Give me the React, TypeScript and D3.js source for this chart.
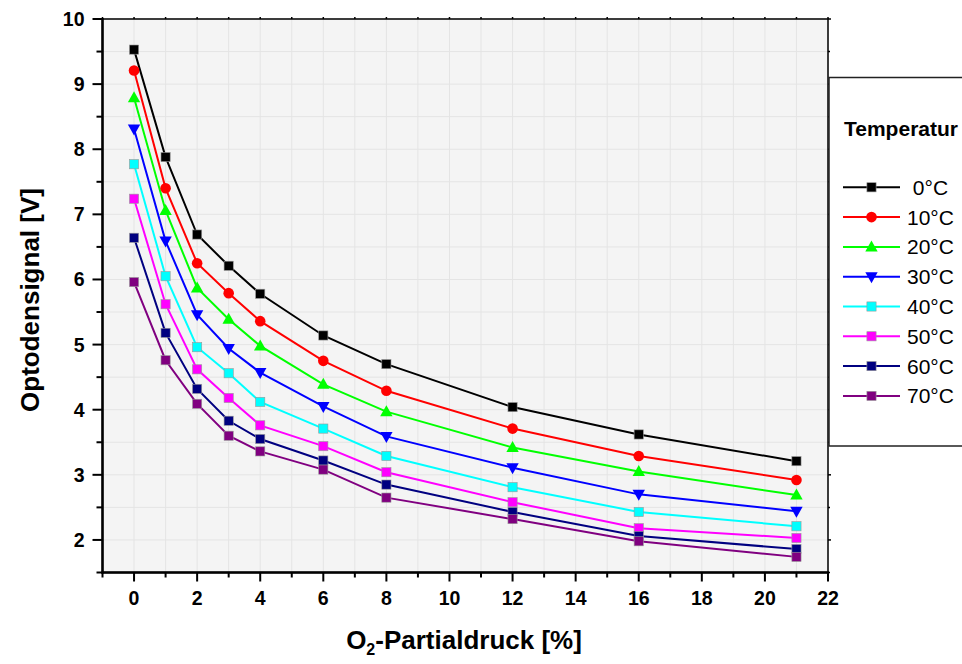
import React from "react";
import * as d3 from "d3";

const oxygen = [0, 1, 2, 3, 4, 6, 8, 12, 16, 21];
const seriesNames = ["0°C", "10°C", "20°C", "30°C", "40°C", "50°C", "60°C", "70°C"];
const t0 = [9.53, 7.88, 6.69, 6.21, 5.78, 5.14, 4.70, 4.04, 3.62, 3.21];
const t10 = [9.21, 7.40, 6.25, 5.79, 5.36, 4.75, 4.29, 3.71, 3.29, 2.92];
const t20 = [8.79, 7.06, 5.87, 5.39, 4.98, 4.39, 3.97, 3.42, 3.05, 2.69];
const t30 = [8.31, 6.59, 5.46, 4.94, 4.57, 4.05, 3.59, 3.11, 2.70, 2.44];
const t40 = [7.77, 6.05, 4.96, 4.56, 4.12, 3.71, 3.29, 2.81, 2.43, 2.21];
const t50 = [7.24, 5.62, 4.62, 4.18, 3.76, 3.44, 3.04, 2.58, 2.18, 2.03];
const t60 = [6.64, 5.18, 4.32, 3.83, 3.55, 3.22, 2.85, 2.43, 2.06, 1.86];
const t70 = [5.96, 4.76, 4.09, 3.60, 3.36, 3.08, 2.65, 2.32, 1.98, 1.74];
const seriesValues = [t0, t10, t20, t30, t40, t50, t60, t70];
const colors = ["#000000", "#ff0000", "#00ff00", "#0000ff", "#00ffff", "#ff00ff", "#000080", "#800080"];
const shapes = ["square", "circle", "triangle", "down", "square", "square", "square", "square"];
const xTicks = [0, 2, 4, 6, 8, 10, 12, 14, 16, 18, 20, 22];
const yTicks = [2, 3, 4, 5, 6, 7, 8, 9, 10];

const W = 962, H = 664;
const L = 102.5, R = 828, T = 19, B = 572.5;
const FONT = "'Liberation Sans', Arial, sans-serif";

function Marker({ shape, x, y, color }: { shape: string; x: number; y: number; color: string }) {
  if (shape === "circle") return <circle cx={x} cy={y} r={5.3} fill={color} />;
  if (shape === "triangle")
    return <path d={`M${x},${y - 6.5}L${x + 6.2},${y + 4.5}L${x - 6.2},${y + 4.5}Z`} fill={color} />;
  if (shape === "down")
    return <path d={`M${x},${y + 6.5}L${x + 6.2},${y - 4.5}L${x - 6.2},${y - 4.5}Z`} fill={color} />;
  return <rect x={x - 4.6} y={y - 4.6} width={9.2} height={9.2} fill={color} stroke="#999" strokeWidth={0.6} />;
}

export default function App() {
  const x = d3.scaleLinear().domain([-1, 22]).range([L, R]);
  const y = d3.scaleLinear().domain([1.5, 10]).range([B, T]);
  const line = d3
    .line<number>()
    .x((_, i) => x(oxygen[i]))
    .y((d) => y(d));
  const xGrid = d3.range(-1, 23, 1);
  const yGrid = d3.range(1.5, 10.01, 0.5);
  const xMinor = d3.range(-1, 22, 2);
  const yMinor = d3.range(1.5, 10, 1);

  return (
    <svg width={W} height={H} style={{ position: "absolute", left: 0, top: 0 }} fontFamily={FONT}>
      <rect x={0} y={0} width={W} height={H} fill="#ffffff" />
      <rect x={L} y={T} width={R - L} height={B - T} fill="#f4f4f4" />
      {xGrid.map((g) => (
        <line key={"gx" + g} x1={x(g)} x2={x(g)} y1={T} y2={B} stroke="#e4e4e4" strokeWidth={1} />
      ))}
      {yGrid.map((g) => (
        <line key={"gy" + g} x1={L} x2={R} y1={y(g)} y2={y(g)} stroke="#e4e4e4" strokeWidth={1} />
      ))}

      {seriesValues.map((vals, si) => (
        <path key={"l" + si} d={line(vals) || ""} fill="none" stroke={colors[si]} strokeWidth={2} />
      ))}
      {seriesValues.map((vals, si) =>
        vals.map((v, i) => (
          <Marker key={`m${si}-${i}`} shape={shapes[si]} x={x(oxygen[i])} y={y(v)} color={colors[si]} />
        ))
      )}

      {/* frame */}
      <rect x={L} y={T} width={R - L} height={B - T} fill="none" stroke="#000" strokeWidth={1.5} />
      <line x1={L} x2={L} y1={T - 1} y2={B + 1} stroke="#000" strokeWidth={2.5} />
      <line x1={L - 1} x2={R + 1} y1={B} y2={B} stroke="#000" strokeWidth={2.5} />

      {/* y ticks */}
      {yTicks.map((t) => (
        <g key={"yt" + t}>
          <line x1={L - 10} x2={L} y1={y(t)} y2={y(t)} stroke="#000" strokeWidth={2} />
          <line x1={R} x2={R + 3} y1={y(t)} y2={y(t)} stroke="#000" strokeWidth={1.5} />
          <text x={L - 18} y={y(t) + 7} textAnchor="end" fontSize={19.5} fontWeight="bold">
            {t}
          </text>
        </g>
      ))}
      {yMinor.map((t) => (
        <g key={"ym" + t}>
          <line x1={L - 6} x2={L} y1={y(t)} y2={y(t)} stroke="#000" strokeWidth={2} />
          <line x1={R} x2={R + 2} y1={y(t)} y2={y(t)} stroke="#000" strokeWidth={1.5} />
        </g>
      ))}
      {/* x ticks */}
      {xTicks.map((t) => (
        <g key={"xt" + t}>
          <line x1={x(t)} x2={x(t)} y1={B} y2={B + 9} stroke="#000" strokeWidth={2} />
          <line x1={x(t)} x2={x(t)} y1={T} y2={T - 2} stroke="#000" strokeWidth={1.5} />
          <text x={x(t)} y={B + 32} textAnchor="middle" fontSize={19.5} fontWeight="bold">
            {t}
          </text>
        </g>
      ))}
      {xMinor.map((t) => (
        <g key={"xm" + t}>
          <line x1={x(t)} x2={x(t)} y1={B} y2={B + 5} stroke="#000" strokeWidth={2} />
          <line x1={x(t)} x2={x(t)} y1={T} y2={T - 2} stroke="#000" strokeWidth={1.5} />
        </g>
      ))}

      {/* axis titles */}
      <text x={464} y={649} textAnchor="middle" fontSize={26} fontWeight="bold">
        O<tspan fontSize={16} dy={6}>2</tspan>
        <tspan dy={-6}>-Partialdruck [%]</tspan>
      </text>
      <text
        transform={`translate(39,300) rotate(-90)`}
        textAnchor="middle"
        fontSize={26}
        fontWeight="bold"
      >
        Optodensignal [V]
      </text>

      {/* legend */}
      <rect x={829} y={77.5} width={140} height={368.5} fill="#ffffff" stroke="#222" strokeWidth={1.5} />
      <text x={844} y={136} fontSize={21} fontWeight="bold">
        Temperatur
      </text>
      {seriesNames.map((name, si) => {
        const ly = 187.3 + si * 29.8;
        return (
          <g key={"lg" + si}>
            <line x1={843} x2={900} y1={ly} y2={ly} stroke={colors[si]} strokeWidth={2} />
            <Marker shape={shapes[si]} x={871.5} y={ly} color={colors[si]} />
            <text x={907} y={ly + 7.5} fontSize={21} xmlSpace="preserve" style={{ whiteSpace: "pre" }}>
              {name.length < 4 ? " " + name : name}
            </text>
          </g>
        );
      })}
    </svg>
  );
}
